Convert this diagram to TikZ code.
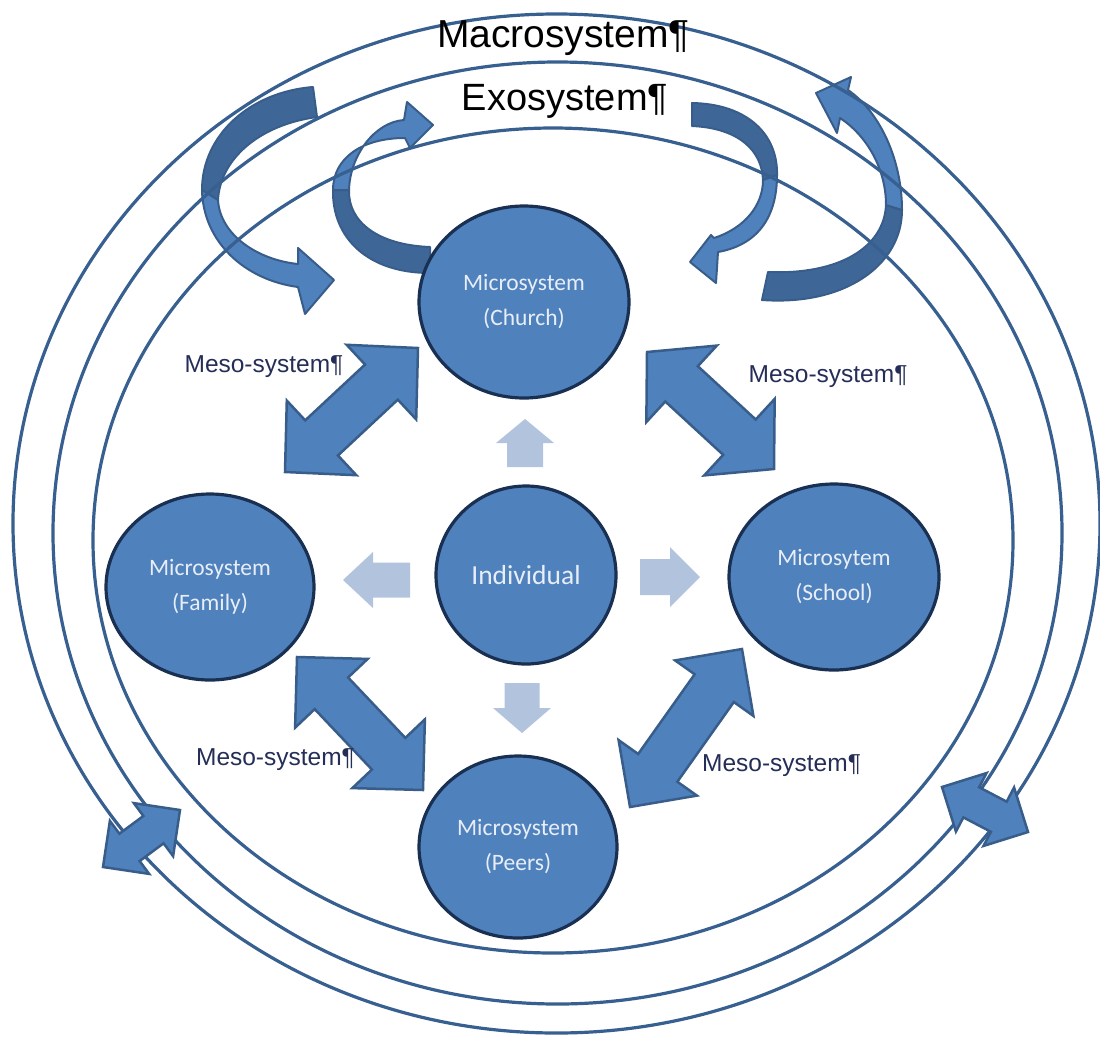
\documentclass[tikz,border=0pt]{standalone}
\usepackage{fontspec}
\setmainfont{Liberation Sans}
\newfontfamily\calf{Carlito}
\usetikzlibrary{calc,shapes.geometric}
\definecolor{ringc}{RGB}{55,96,145}
\definecolor{circfill}{RGB}{79,129,189}
\definecolor{circdraw}{RGB}{26,48,82}
\definecolor{arrdraw}{RGB}{56,93,138}
\definecolor{lightarr}{RGB}{178,195,222}
\definecolor{darkband}{RGB}{62,103,152}
\definecolor{mesotxt}{RGB}{36,46,86}
\definecolor{circtxt}{RGB}{232,238,247}
\tikzset{
  ring/.style={draw=ringc, line width=3.2pt},
  micro/.style={ellipse, draw=circdraw, fill=circfill, line width=3.2pt, text=circtxt,
    font=\calf\fontsize{23.5}{35}\selectfont, align=center, inner sep=0pt},
  bigarr/.style={fill=circfill, draw=arrdraw, line width=2.5pt, line join=miter},
  litearr/.style={fill=lightarr},
  bandlight/.style={fill=circfill, draw=arrdraw, line width=2pt, line join=round},
  banddark/.style={fill=darkband, draw=arrdraw, line width=2pt, line join=round},
  meso/.style={text=mesotxt, font=\fontsize{24.5}{28}\selectfont, inner sep=0pt},
  sys/.style={text=black, inner sep=0pt}
}
\newcommand{\dblblock}[6]{%
  \coordinate (hA) at ($(#2)!#6!(#3)$);
  \coordinate (hB) at ($(#3)!#6!(#2)$);
  \filldraw[#1] (#2) -- ($(hA)!#5!90:(#3)$) -- ($(hA)!#4!90:(#3)$) -- ($(hB)!#4!-90:(#2)$) -- ($(hB)!#5!-90:(#2)$) -- (#3) -- ($(hB)!#5!90:(#2)$) -- ($(hB)!#4!90:(#2)$) -- ($(hA)!#4!-90:(#3)$) -- ($(hA)!#5!-90:(#3)$) -- cycle;
}
\newcommand{\oneblock}[6]{%
  \coordinate (hh) at ($(#3)!#6!(#2)$);
  \fill[#1] ($(#2)!#4!90:(#3)$) -- ($(hh)!#4!90:(#3)$) -- ($(hh)!#5!90:(#3)$) -- (#3) -- ($(hh)!#5!-90:(#3)$) -- ($(hh)!#4!-90:(#3)$) -- ($(#2)!#4!-90:(#3)$) -- cycle;
}
\begin{document}
\begin{tikzpicture}[x=1pt,y=-1pt]
\useasboundingbox (0,0) rectangle (1100,1037);

% ---- curved arrows (top) ----
% CA1 left outer
\filldraw[banddark] (313,87) .. controls (250,92) and (202,135) .. (202,190) -- (218,200) .. controls (220,160) and (258,125) .. (317,117) -- cycle;
\filldraw[bandlight] (202,190) .. controls (203,242) and (245,280) .. (298,287) -- (305,314) -- (334,280) -- (298,248) -- (298,264) .. controls (258,260) and (220,235) .. (218,200) -- cycle;
% CA2 left inner
\filldraw[banddark] (430,247) .. controls (378,245) and (348,222) .. (349,190) -- (333,190) .. controls (332,238) and (368,273) .. (430,273) -- cycle;
\filldraw[bandlight] (333,190) .. controls (333,158) and (362,138) .. (405,138) -- (410,148) -- (433,125) -- (407,102) -- (404,120) .. controls (375,122) and (350,155) .. (349,190) -- cycle;
% CA3 right inner
\filldraw[banddark] (692,103) .. controls (748,104) and (778,135) .. (777,175) -- (763,180) .. controls (762,150) and (738,128) .. (692,126) -- cycle;
\filldraw[bandlight] (777,175) .. controls (777,218) and (757,245) .. (718,252) -- (716,283) -- (690,262) -- (711,235) -- (714,238) .. controls (745,228) and (763,205) .. (763,180) -- cycle;
% CA4 right outer
\filldraw[banddark] (762,300) .. controls (845,306) and (902,265) .. (902,210) -- (886,205) .. controls (884,248) and (838,275) .. (768,272) -- cycle;
\filldraw[bandlight] (902,210) .. controls (902,160) and (880,112) .. (848,90) -- (851,77) -- (816,93) -- (837,133) -- (840,118) .. controls (866,135) and (886,168) .. (886,205) -- cycle;

% ---- rings ----
\draw[ring] (556.5,523.5) ellipse [x radius=543.5pt, y radius=509.5pt];
\draw[ring] (557.5,533) ellipse [x radius=504.5pt, y radius=471pt];
\draw[ring] (553,540.5) ellipse [x radius=460pt, y radius=412.5pt];

% ---- ring crossing arrows ----
\coordinate (rl1) at (103,867); \coordinate (rl2) at (180,810);
\dblblock{bigarr}{rl1}{rl2}{17pt}{33pt}{33pt}
\coordinate (rr1) at (942,787); \coordinate (rr2) at (1028,832);
\dblblock{bigarr}{rr1}{rr2}{17pt}{33pt}{33pt}

% ---- meso arrows ----
\coordinate (ul1) at (285,472); \coordinate (ul2) at (418,348);
\dblblock{bigarr}{ul1}{ul2}{24pt}{51pt}{50pt}
\coordinate (ur1) at (647,352); \coordinate (ur2) at (774,469);
\dblblock{bigarr}{ur1}{ur2}{24pt}{52pt}{47pt}
\coordinate (ll1) at (297,657); \coordinate (ll2) at (423,790);
\dblblock{bigarr}{ll1}{ll2}{23pt}{50pt}{50pt}
\coordinate (lr1) at (630,807); \coordinate (lr2) at (742,649);
\dblblock{bigarr}{lr1}{lr2}{24pt}{48pt}{48pt}

% ---- light arrows ----
\coordinate (up1) at (525,467); \coordinate (up2) at (525,419);
\oneblock{litearr}{up1}{up2}{18pt}{29pt}{24pt}
\coordinate (lf1) at (410,580); \coordinate (lf2) at (343,580);
\oneblock{litearr}{lf1}{lf2}{17.5pt}{28pt}{30pt}
\coordinate (rt1) at (640,577); \coordinate (rt2) at (700,577);
\oneblock{litearr}{rt1}{rt2}{18pt}{30pt}{30pt}
\coordinate (dn1) at (522,683); \coordinate (dn2) at (522,733);
\oneblock{litearr}{dn1}{dn2}{17.5pt}{29pt}{25pt}

% ---- circles ----
\node[micro, minimum width=210pt, minimum height=192pt] (church) at (524,302) {Microsystem\\(Church)};
\node[micro, minimum width=208pt, minimum height=186pt] (family) at (210,587) {Microsystem\\(Family)};
\node[micro, minimum width=180pt, minimum height=178pt, font=\calf\fontsize{27.5}{32}\selectfont] (indiv) at (526,575) {Individual};
\node[micro, minimum width=210pt, minimum height=186pt] (school) at (834,577) {Microsytem\\(School)};
\node[micro, minimum width=198pt, minimum height=182pt] (peers) at (518,847) {Microsystem\\(Peers)};

% ---- labels ----
\node[sys, anchor=base, font=\fontsize{39}{42}\selectfont] (macro) at (563.5,47) {Macrosystem¶};
\node[sys, anchor=base, font=\fontsize{38}{42}\selectfont] (exo) at (565,110) {Exosystem¶};
\node[meso] (m1) at (264,367) {Meso-system¶};
\node[meso] (m2) at (828,377) {Meso-system¶};
\node[meso] (m3) at (275.5,760) {Meso-system¶};
\node[meso] (m4) at (781.5,766) {Meso-system¶};
\end{tikzpicture}
\end{document}
